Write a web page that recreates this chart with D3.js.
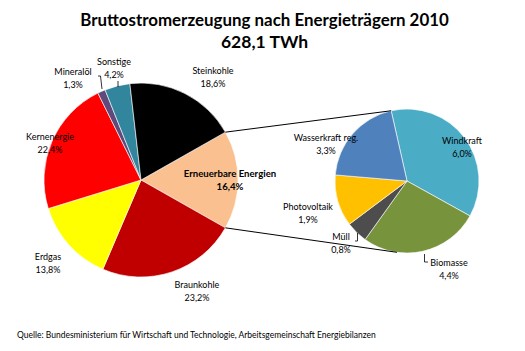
<!DOCTYPE html>
<html><head><meta charset="utf-8">
<script src="https://cdn.jsdelivr.net/npm/d3@7"></script>
<style>
html,body{margin:0;padding:0;background:#fff;}
text{font-family:Lato,"Open Sans",sans-serif;fill:#000;}
</style></head>
<body>
<svg id="chart" width="525" height="351"></svg>
<script>
// ---- data ----
const titleLines = ["Bruttostromerzeugung nach Energieträgern 2010", "628,1 TWh"];
const mainCategories = ["Erneuerbare Energien","Braunkohle","Erdgas","Kernenergie","Mineralöl","Sonstige","Steinkohle"];
const mainValues = [16.4, 23.2, 13.8, 22.4, 1.3, 4.2, 18.6];
const mainColors = ["#FAC090","#C00000","#FFFF00","#FF0000","#604A7B","#31859C","#000000"];
const subCategories = ["Windkraft","Biomasse","Müll","Photovoltaik","Wasserkraft reg."];
const subValues = [6.0, 4.4, 0.8, 1.9, 3.3];
const subColors = ["#4BACC6","#77933C","#4D4D4D","#FFC000","#4F81BD"];
const sourceText = "Quelle: Bundesministerium für Wirtschaft und Technologie, Arbeitsgemeinschaft Energiebilanzen";

// ---- layout ----
const svg = d3.select("#chart");
const fmt = v => d3.format(".1f")(v).replace(".", ",") + "%";
const deg = Math.PI / 180;

const main = {cx: 141, cy: 180, r: 97};
const sub = {cx: 407, cy: 181, r: 72};

const mainLabelPos = {
  "Erneuerbare Energien": [230, 174, true],
  "Braunkohle": [197, 285],
  "Erdgas": [48, 257],
  "Kernenergie": [50, 137],
  "Mineralöl": [73, 72],
  "Sonstige": [114, 62],
  "Steinkohle": [213, 71]
};
const subLabelPos = {
  "Windkraft": [462, 141],
  "Biomasse": [449, 263],
  "Müll": [341, 237],
  "Photovoltaik": [308, 207],
  "Wasserkraft reg.": [326, 138]
};

// title
svg.append("text").attr("x", 264.5).attr("y", 26).attr("text-anchor", "middle")
  .style("font-weight", "bold").style("font-size", "16.9px").text(titleLines[0]);
svg.append("text").attr("x", 264.5).attr("y", 48).attr("text-anchor", "middle")
  .style("font-weight", "bold").style("font-size", "17.5px").text(titleLines[1]);

// main pie
const mainTotal = d3.sum(mainValues);
const mainStart = Math.PI / 2 - (mainValues[0] / mainTotal) * Math.PI;
const mainPie = d3.pie().sort(null).startAngle(mainStart).endAngle(mainStart + 2 * Math.PI);
const mainArcs = mainPie(mainValues);
const arcMain = d3.arc().innerRadius(0).outerRadius(main.r);
const gMain = svg.append("g").attr("transform", `translate(${main.cx},${main.cy})`);
gMain.selectAll("path").data(mainArcs).join("path")
  .attr("d", arcMain).attr("fill", (d, i) => mainColors[i])
  .attr("stroke", "#ffffff").attr("stroke-width", 0.6);

// secondary pie
const subStart = -12.7 * deg;
const subPie = d3.pie().sort(null).startAngle(subStart).endAngle(subStart + 2 * Math.PI);
const subArcs = subPie(subValues);
const arcSub = d3.arc().innerRadius(0).outerRadius(sub.r);
const gSub = svg.append("g").attr("transform", `translate(${sub.cx},${sub.cy})`);
gSub.selectAll("path").data(subArcs).join("path")
  .attr("d", arcSub).attr("fill", (d, i) => subColors[i])
  .attr("stroke", "#ffffff").attr("stroke-width", 0.6);

// connector lines
const pt = (c, a) => [c.cx + c.r * Math.sin(a), c.cy - c.r * Math.cos(a)];
const ern = mainArcs[0];
const conns = [
  [pt(main, ern.startAngle), pt(sub, subStart)],
  [pt(main, ern.endAngle), pt(sub, 188 * deg)]
];
svg.selectAll("line.conn").data(conns).join("line").attr("class", "conn")
  .attr("x1", d => d[0][0]).attr("y1", d => d[0][1])
  .attr("x2", d => d[1][0]).attr("y2", d => d[1][1])
  .attr("stroke", "#000").attr("stroke-width", 1);

// labels
function addLabel(name, value, pos) {
  const g = svg.append("g");
  const bold = !!pos[2];
  const fs = bold ? "9.6px" : "9px";
  g.append("text").attr("x", pos[0]).attr("y", pos[1]).attr("dy", "0.35em")
    .attr("text-anchor", "middle").style("font-size", fs)
    .style("font-weight", bold ? "bold" : "normal").text(name);
  g.append("text").attr("x", pos[0]).attr("y", pos[1] + 13).attr("dy", "0.35em")
    .attr("text-anchor", "middle").style("font-size", fs)
    .style("font-weight", bold ? "bold" : "normal").text(fmt(value));
}
mainCategories.forEach((c, i) => addLabel(c, mainValues[i], mainLabelPos[c]));
subCategories.forEach((c, i) => addLabel(c, subValues[i], subLabelPos[c]));

// leader lines
const leaders = [
  [[98, 76], [100.5, 76], [102, 89]],
  [[118, 81], [118, 87]],
  [[355, 241], [357.5, 241], [357.5, 233]],
  [[428, 262], [424.5, 262], [424.5, 254]]
];
svg.selectAll("path.leader").data(leaders).join("path").attr("class", "leader")
  .attr("d", d => d3.line()(d)).attr("fill", "none").attr("stroke", "#000").attr("stroke-width", 0.8);

// source
svg.append("text").attr("x", 17).attr("y", 335).attr("dy", "0.35em")
  .style("font-size", "8.5px").text(sourceText);
</script>
</body></html>
